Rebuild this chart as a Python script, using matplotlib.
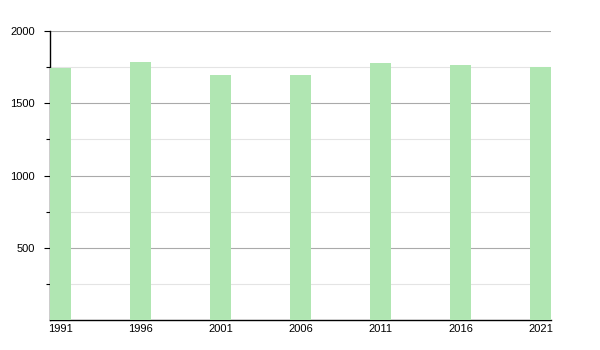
import matplotlib
matplotlib.use("Agg")
import matplotlib.pyplot as plt
from matplotlib.ticker import FixedLocator

years = ["1991", "1996", "2001", "2006", "2011", "2016", "2021"]
population = [1745, 1788, 1695, 1695, 1780, 1765, 1752]
major_ticks = [500, 1000, 1500, 2000]
minor_ticks = [250, 750, 1250, 1750]

BAR_COLOR = "#b0e6b2"

plt.rcParams["font.family"] = ["Liberation Sans", "DejaVu Sans"]

fig = plt.figure(figsize=(6, 3.5), dpi=100)
ax = fig.add_axes([50 / 600, 30 / 350, 501 / 600, 289 / 350])

pos = list(range(len(years)))
width = 21 / 80
ax.bar(pos, population, width=width, color=BAR_COLOR, zorder=3)

ax.set_xlim(-width / 2, pos[-1] + width / 2)
ax.set_ylim(0, 2000)
ax.set_xticks(pos)
ax.set_xticklabels(years)
ax.yaxis.set_major_locator(FixedLocator(major_ticks))
ax.yaxis.set_minor_locator(FixedLocator(minor_ticks))

ax.grid(axis="y", which="major", color="#aaaaaa", linewidth=0.8, zorder=0)
ax.grid(axis="y", which="minor", color="#e4e4e4", linewidth=0.8, zorder=0)

for side in ("top", "right"):
    ax.spines[side].set_visible(False)
for side in ("left", "bottom"):
    ax.spines[side].set_color("black")
    ax.spines[side].set_linewidth(1.0)

ax.tick_params(axis="y", which="major", length=4, width=0.8, pad=7, labelsize=8)
ax.tick_params(axis="y", which="minor", length=3, width=0.8)
ax.tick_params(axis="x", length=0, pad=3, labelsize=8)

fig.savefig("out.png", dpi=100)
